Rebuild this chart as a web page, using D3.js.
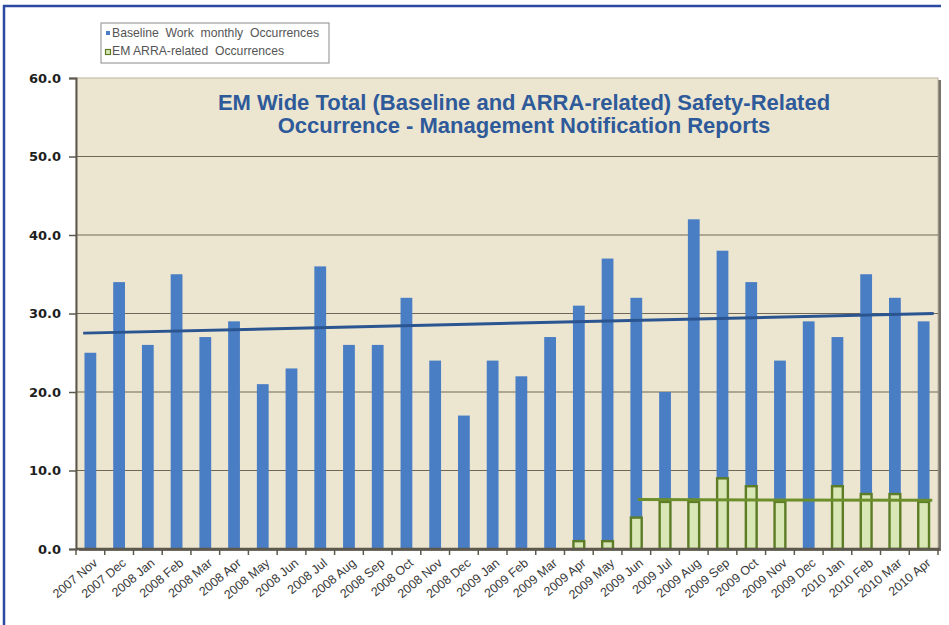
<!DOCTYPE html>
<html>
<head>
<meta charset="utf-8">
<script src="https://cdn.jsdelivr.net/npm/d3@7"></script>
<style>
body { margin: 0; background: #fff; }
svg { display: block; }
</style>
</head>
<body>
<div></div>
<script>
var width = 949;
var height = 625;

var months = ["2007 Nov", "2007 Dec", "2008 Jan", "2008 Feb", "2008 Mar", "2008 Apr", "2008 May", "2008 Jun",
	"2008 Jul", "2008 Aug", "2008 Sep", "2008 Oct", "2008 Nov", "2008 Dec", "2009 Jan", "2009 Feb",
	"2009 Mar", "2009 Apr", "2009 May", "2009 Jun", "2009 Jul", "2009 Aug", "2009 Sep", "2009 Oct",
	"2009 Nov", "2009 Dec", "2010 Jan", "2010 Feb", "2010 Mar", "2010 Apr"];

var baseline = [25, 34, 26, 35, 27, 29, 21, 23, 36, 26, 26, 32, 24, 17, 24, 22,
	27, 31, 37, 32, 20, 42, 38, 34, 24, 29, 27, 35, 32, 29];

var arra = [null, null, null, null, null, null, null, null, null, null, null, null, null, null, null, null,
	null, 1, 1, 4, 6, 6, 9, 8, 6, null, 8, 7, 7, 6];

// trend lines: [category position, value]
var baselineTrend = [[-0.25, 27.5], [29.35, 30.0]];
var arraTrend = [[19.05, 6.3], [29.3, 6.2]];

var yTicks = [0, 10, 20, 30, 40, 50, 60];

var legendLabels = ["Baseline  Work  monthly  Occurrences", "EM ARRA-related  Occurrences"];
var titleLines = ["EM Wide Total (Baseline and ARRA-related) Safety-Related",
	"Occurrence - Management Notification Reports"];

var plot = {left: 76, right: 938, top: 78, bottom: 549};

var svg = d3.select("div")
	.append("svg")
	.attr("width", width)
	.attr("height", height);

var x = d3.scaleBand()
	.domain(months)
	.range([plot.left, plot.right]);

var xi = d3.scaleLinear()
	.domain([0, months.length])
	.range([plot.left, plot.right]);

var y = d3.scaleLinear()
	.domain([0, 60])
	.range([plot.bottom, plot.top]);

var barW = x.step() * 0.41;

// outer frame (top and left only)
svg.append("line")
	.attr("x1", 3).attr("x2", 941).attr("y1", 6).attr("y2", 6)
	.attr("stroke", "#2d4aa3").attr("stroke-width", 2.5);
svg.append("line")
	.attr("x1", 4).attr("x2", 4).attr("y1", 5).attr("y2", height)
	.attr("stroke", "#2d4aa3").attr("stroke-width", 2.5);

// plot background + shadow on the right
svg.append("rect")
	.attr("x", plot.left + 3).attr("y", plot.top + 2)
	.attr("width", plot.right - plot.left).attr("height", plot.bottom - plot.top)
	.attr("fill", "#77736a");
svg.append("rect")
	.attr("x", plot.left).attr("y", plot.top)
	.attr("width", plot.right - plot.left).attr("height", plot.bottom - plot.top)
	.attr("fill", "#ece6d1")
	.attr("stroke", "#b9b3a3")
	.attr("stroke-width", 1);

// grid
svg.append("g")
	.selectAll("line")
	.data(yTicks.filter(d => d > 0 && d < 60))
	.enter()
	.append("line")
	.attr("x1", plot.left).attr("x2", plot.right)
	.attr("y1", d => y(d)).attr("y2", d => y(d))
	.attr("stroke", "#6f6757")
	.attr("stroke-width", 1);

// y axis
var yAxis = svg.append("g")
	.attr("transform", "translate(" + plot.left + ",0)")
	.call(d3.axisLeft(y).tickValues(yTicks).tickFormat(d3.format(".1f")).tickSize(7).tickPadding(8));
yAxis.select(".domain").attr("stroke", "#5d584e").attr("stroke-width", 2);
yAxis.selectAll(".tick line").attr("stroke", "#5d584e").attr("stroke-width", 1.5);
yAxis.selectAll("text")
	.attr("font-family", "DejaVu Sans, sans-serif")
	.attr("font-weight", "bold")
	.attr("font-size", 13)
	.attr("fill", "#1e1e1e");

// baseline bars
svg.append("g")
	.selectAll("rect")
	.data(baseline)
	.enter()
	.append("rect")
	.attr("x", (d, i) => x(months[i]) + (x.step() - barW) / 2)
	.attr("y", d => y(d))
	.attr("width", barW)
	.attr("height", d => y(0) - y(d))
	.attr("fill", "#4a7ec4");

// ARRA bars
svg.append("g")
	.selectAll("rect")
	.data(arra.map((v, i) => ({v: v, m: months[i]})).filter(d => d.v != null))
	.enter()
	.append("rect")
	.attr("x", d => x(d.m) + (x.step() - barW) / 2 + 0.5)
	.attr("y", d => y(d.v))
	.attr("width", barW - 1)
	.attr("height", d => y(0) - y(d.v))
	.attr("fill", "#d9e6b5")
	.attr("stroke", "#5c7d26")
	.attr("stroke-width", 2.4);

// x axis
var xAxis = svg.append("g")
	.attr("transform", "translate(0," + plot.bottom + ")");
xAxis.append("line")
	.attr("x1", plot.left).attr("x2", plot.right + 2)
	.attr("stroke", "#5d584e").attr("stroke-width", 2.5);
xAxis.selectAll(".tk")
	.data(d3.range(months.length + 1))
	.enter()
	.append("line")
	.attr("x1", d => xi(d)).attr("x2", d => xi(d))
	.attr("y1", 0).attr("y2", 6)
	.attr("stroke", "#5d584e").attr("stroke-width", 1.5);
xAxis.selectAll("text")
	.data(months)
	.enter()
	.append("text")
	.text(d => d)
	.attr("text-anchor", "end")
	.attr("transform", d => "translate(" + (x(d) + x.step() / 2 + 5) + ",12) rotate(-40)")
	.attr("dy", "0.35em")
	.attr("font-family", "Liberation Sans, Arial, sans-serif")
	.attr("font-size", 12.5)
	.attr("fill", "#3a3a3a");

// trend lines
var trend = d3.line()
	.x(d => xi(d[0] + 0.5))
	.y(d => y(d[1]));

svg.append("path")
	.attr("d", trend(baselineTrend))
	.attr("fill", "none")
	.attr("stroke", "#2b5591")
	.attr("stroke-width", 3);

svg.append("path")
	.attr("d", trend(arraTrend))
	.attr("fill", "none")
	.attr("stroke", "#6c8f2c")
	.attr("stroke-width", 3);

// title
svg.append("g")
	.selectAll("text")
	.data(titleLines)
	.enter()
	.append("text")
	.text(d => d)
	.attr("x", 524)
	.attr("y", (d, i) => 110 + i * 23)
	.attr("text-anchor", "middle")
	.attr("font-family", "Liberation Sans, Arial, sans-serif")
	.attr("font-weight", "bold")
	.attr("font-size", 22)
	.attr("fill", "#2f5a9a");

// legend
var legend = svg.append("g");
legend.append("rect")
	.attr("x", 101).attr("y", 23)
	.attr("width", 228).attr("height", 40)
	.attr("fill", "#fff")
	.attr("stroke", "#8a8a8a");
legend.append("rect")
	.attr("x", 106).attr("y", 31).attr("width", 4).attr("height", 4)
	.attr("fill", "#4a7ec4");
legend.append("rect")
	.attr("x", 105.5).attr("y", 49.5).attr("width", 5).attr("height", 5)
	.attr("fill", "#d9e6b5")
	.attr("stroke", "#5c7d26")
	.attr("stroke-width", 1.2);
legend.selectAll("text")
	.data(legendLabels)
	.enter()
	.append("text")
	.text(d => d)
	.attr("x", 112)
	.attr("y", (d, i) => 37 + i * 18)
	.style("white-space", "pre")
	.attr("font-family", "Liberation Sans, Arial, sans-serif")
	.attr("font-size", 12.2)
	.attr("fill", "#555");
</script>
</body>
</html>
